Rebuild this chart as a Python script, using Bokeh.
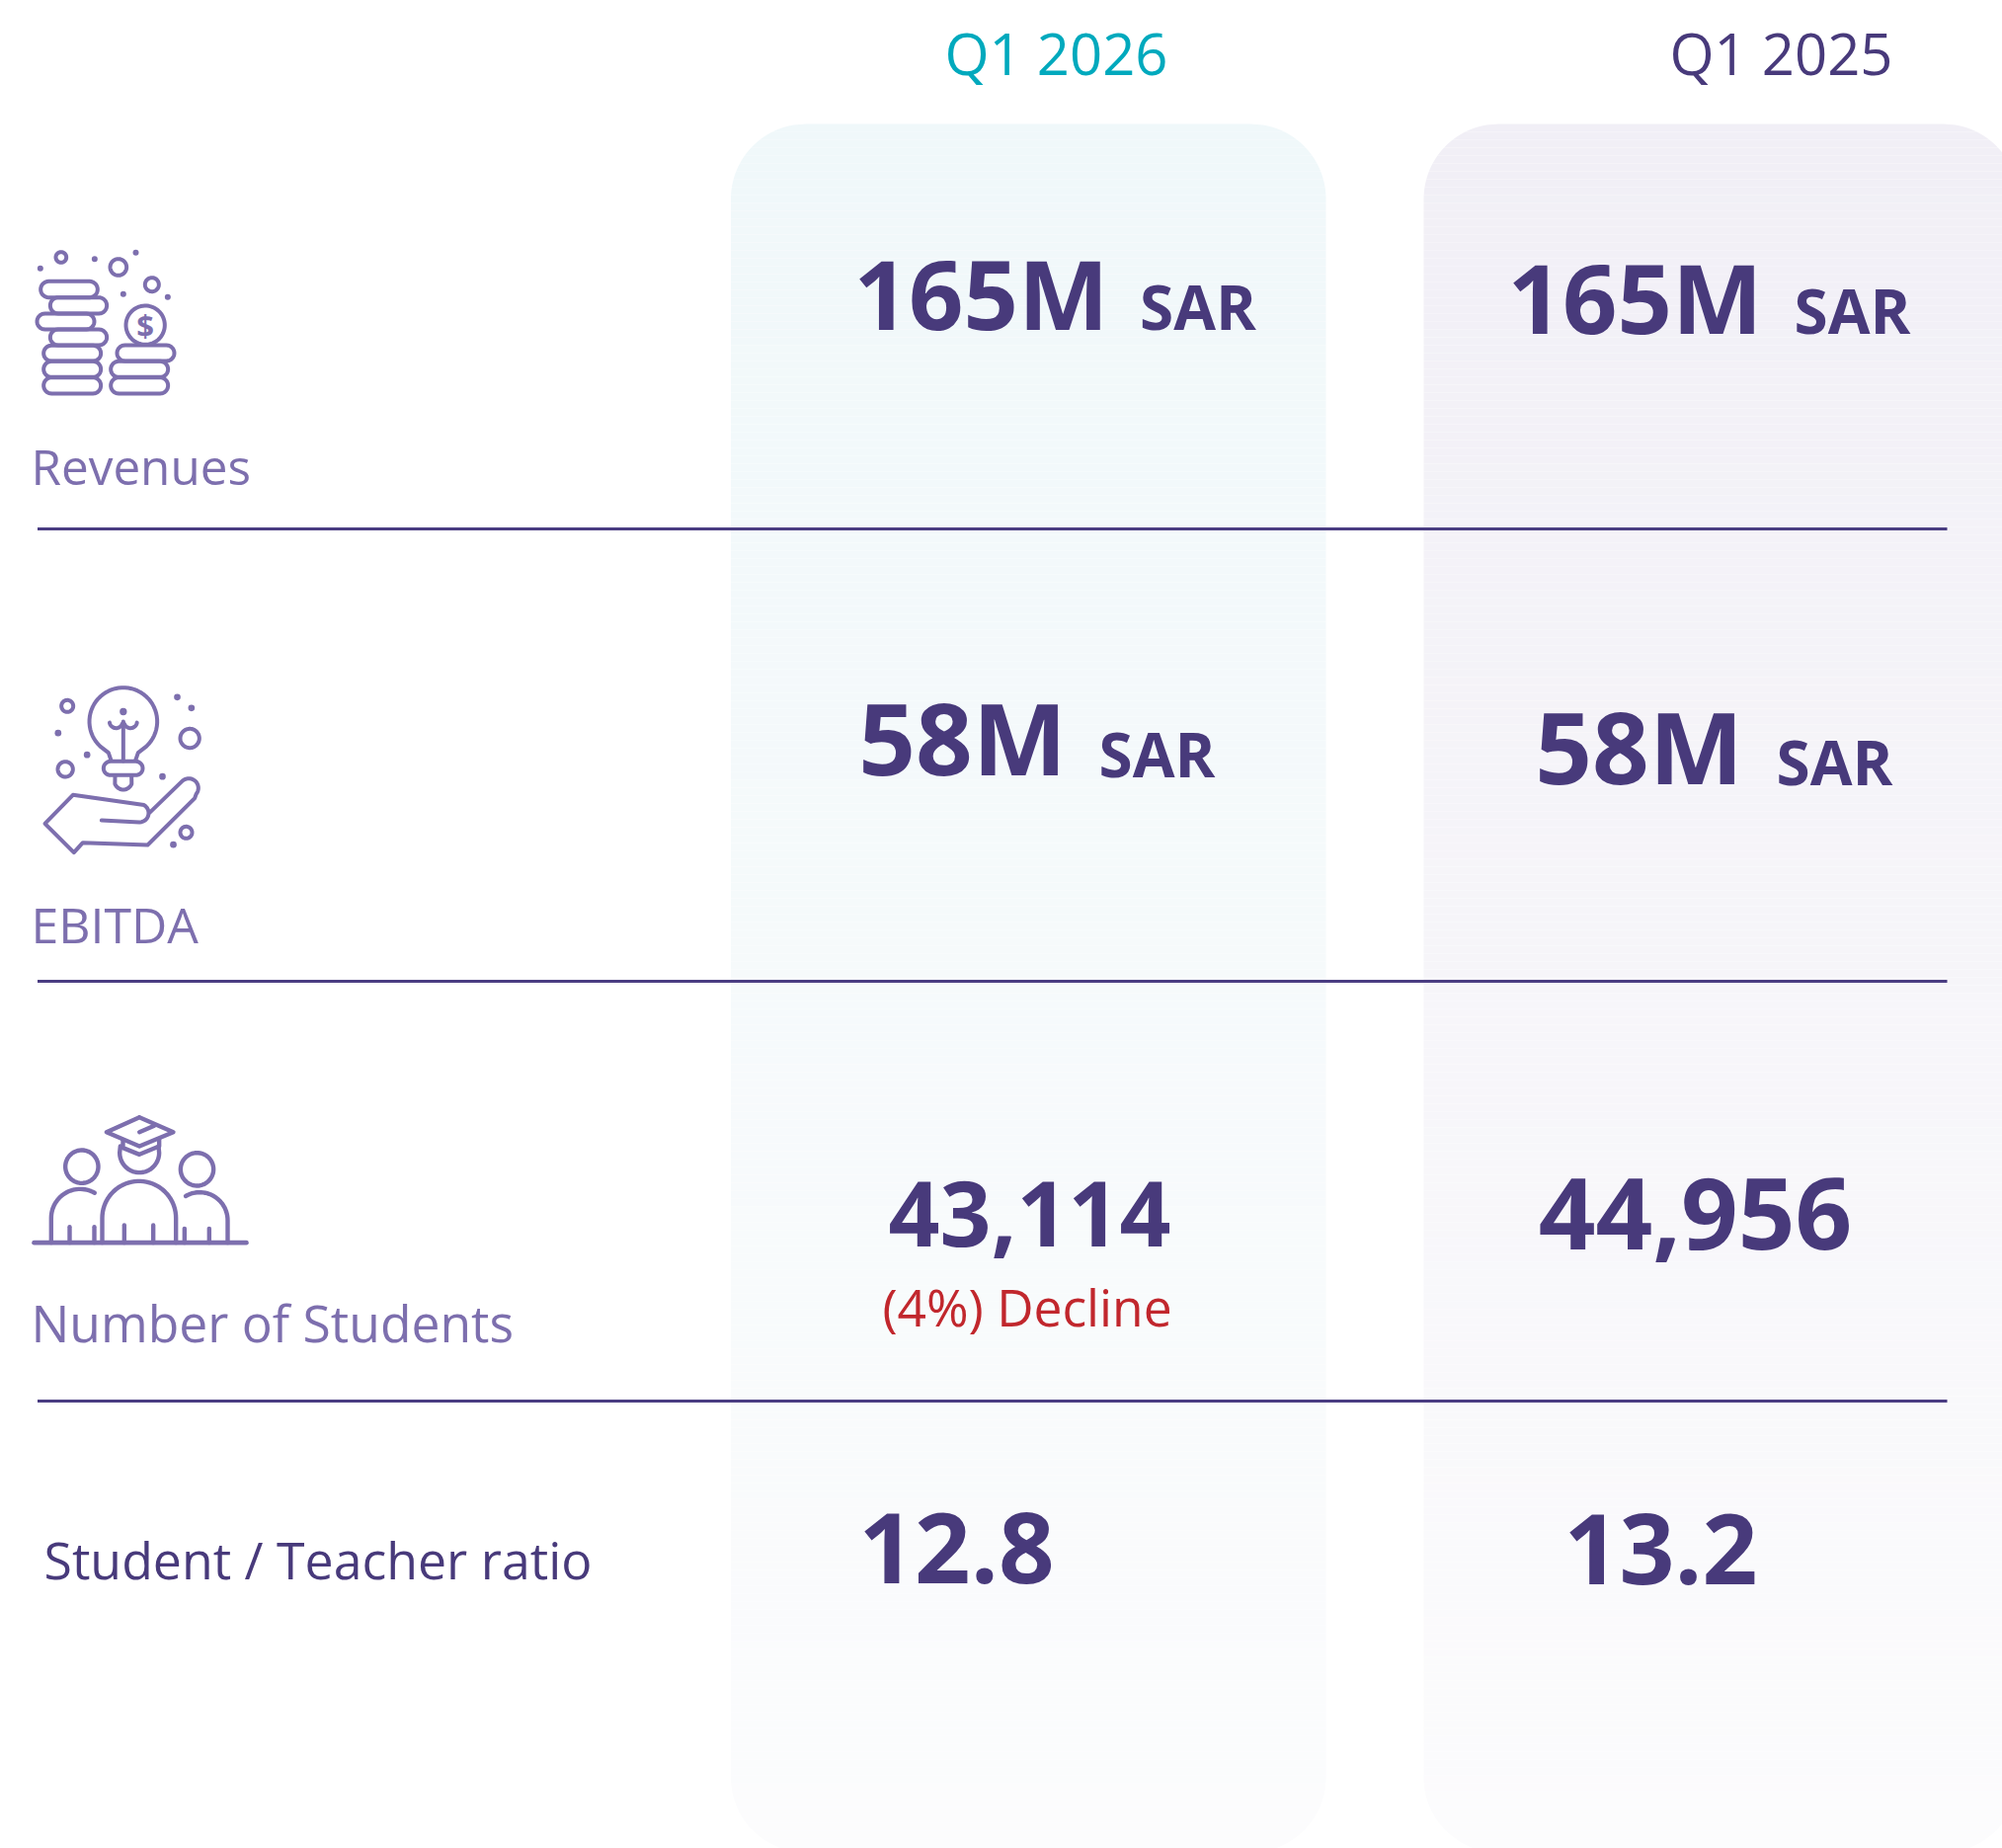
import numpy as np
from bokeh.plotting import figure
from bokeh.models import Range1d
from bokeh.core.properties import value
from bokeh.embed import file_html
from bokeh.resources import INLINE

# ---- data ----
periods = ["Q1 2026", "Q1 2025"]
metrics = ["Revenues", "EBITDA", "Number of Students", "Student / Teacher ratio"]
values_2026 = ["165M", "58M", "43,114", "12.8"]
values_2025 = ["165M", "58M", "44,956", "13.2"]
unit_rows = ["SAR", "SAR"]
note_2026 = "(4%) Decline"

# ---- style ----
FONT = "Open Sans"
DARK = "#483a7b"
RULE = "#4a3d82"
ICON = "#7d6fae"
TEAL = "#00a9bd"
RED = "#c1272d"

p = figure(width=2027, height=1871, output_backend="svg", toolbar_location=None,
           x_range=Range1d(0, 2027), y_range=Range1d(1871, 0),
           x_axis_location=None, y_axis_location=None,
           min_border=0, outline_line_color=None, background_fill_color="white",
           border_fill_color="white")
p.grid.visible = False


# ---- panels with stepped vertical gradient ----
def panel(x0, x1, y0, y1, r, top, bottom, step=8):
    def inset(y):
        d = y0 + r - y
        if d > 0:
            return r - np.sqrt(max(r * r - d * d, 0))
        d = y - (y1 - r)
        if d > 0:
            return r - np.sqrt(max(r * r - d * d, 0))
        return 0.0
    xs, ys, cols = [], [], []
    top, bottom = np.array(top, float), np.array(bottom, float)
    for a in range(y0, y1, step):
        b = min(a + step, y1)
        rows = np.arange(a, b + 1)
        left = [x0 + inset(y) for y in rows]
        right = [x1 - inset(y) for y in rows]
        xs.append(left + right[::-1])
        ys.append(list(rows) + list(rows[::-1]))
        t = (a - y0) / (y1 - y0)
        c = np.round(top + (bottom - top) * t).astype(int)
        cols.append("#%02x%02x%02x" % tuple(c))
    p.patches(xs, ys, fill_color=cols, line_color=None)


panel(739.5, 1342, 125, 1875, 76, (240, 248, 250), (252, 252, 253))
panel(1441, 2043, 125, 1875, 76, (241, 239, 246), (252, 252, 253))

# ---- separators ----
for y in (535, 993, 1418):
    p.segment(37.5, y, 1971, y, line_color=RULE, line_width=3)


# ---- icon helpers ----
def stroke(pts, ox, oy, w=4.0):
    pts = np.array(pts, float)
    p.line(ox + pts[:, 0] / 3, oy + pts[:, 1] / 3, line_color=ICON, line_width=w,
           line_cap="round", line_join="round")


def arc(cx, cy, r, a0, a1, n=40, ry=None):
    t = np.radians(np.linspace(a0, a1, n))
    return np.c_[cx + r * np.cos(t), cy + (ry or r) * np.sin(t)]


def ring(cx, cy, r, ox, oy, w=4.0):
    stroke(arc(cx, cy, r, 0, 360, 60), ox, oy, w)


def dot(cx, cy, r, ox, oy):
    p.circle(ox + cx / 3, oy + cy / 3, radius=r / 3, fill_color=ICON, line_color=None)


def stadium(x0, x1, y0, y1, ox, oy):
    r = (y1 - y0) / 2
    stroke(np.r_[arc(x1 - r, y0 + r, r, -90, 90, 16), arc(x0 + r, y0 + r, r, 90, 270, 16),
                 [[x1 - r, y0]]], ox, oy)


# coins icon
ox, oy = 0, 230
for b in [(122, 295, 163, 212), (151, 323, 212, 261), (111, 285, 261, 309), (151, 323, 309, 357),
          (131, 305, 358, 405), (131, 305, 406, 454), (131, 305, 455, 504),
          (354, 528, 357, 405), (335, 509, 406, 454), (335, 509, 455, 504)]:
    stadium(*b, ox, oy)
ring(440, 296, 59, ox, oy)
for c in [(184, 90, 16), (358, 120, 25), (460, 173, 21)]:
    ring(*c, ox, oy)
for c in [(121, 124), (286, 95), (411, 76), (373, 202), (508, 211)]:
    dot(*c, 9, ox, oy)
p.text([ox + 440 / 3], [oy + 296 / 3], text=["$"], text_font=value(FONT), text_font_style="bold",
       text_font_size="31px", text_color=ICON, text_align="center", text_baseline="middle")

# bulb-in-hand icon
ox, oy = 20, 680
stroke(np.r_[[[276, 268]], [[268, 245]], arc(313, 150, 103, 133, 407, 50), [[358, 245]], [[350, 268]]], ox, oy)
stadium(253, 372, 271, 313, ox, oy)
stroke(np.r_[[[288, 315]], arc(313, 330, 27, 160, 20, 16), [[338, 315]]], ox, oy)
stroke([(313, 150), (313, 270)], ox, oy)
stroke(arc(291, 150, 20, 170, 20, 12), ox, oy)
stroke(arc(335, 150, 20, 160, 10, 12), ox, oy)
dot(313, 120, 11, ox, oy)
for c in [(143, 103, 18), (515, 201, 29), (137, 295, 23), (504, 487, 18)]:
    ring(*c, ox, oy)
for c in [(477, 76), (520, 109), (115, 185), (203, 251), (432, 317), (465, 524)]:
    dot(*c, 10, ox, oy)
stroke(np.r_[[[247, 450]], [[362, 456]], arc(362, 428, 28, 90, -60, 12), [[160, 373]], [[75, 460]], [[163, 548]],
             [[190, 518]], [[387, 525]], [[530, 383]], arc(512, 352, 29, 40, -130, 16), [[392, 428]]], ox, oy)

# students icon
ox, oy = 19, 1110
stroke([(45, 443), (690, 443)], ox, oy, 4.6)
ring(190, 212, 50, ox, oy, 4.4)
ring(540, 220, 50, ox, oy, 4.4)
stroke(np.r_[[[307, 150]], arc(365, 170, 60, 180, 0, 24), [[423, 150]]], ox, oy, 4.4)
stroke([(365, 62), (468, 107), (365, 150), (265, 107), (365, 62)], ox, oy, 4.4)
stroke([(315, 132), (315, 155), (365, 175), (425, 150), (425, 128)], ox, oy, 4.4)
stroke([(365, 107), (410, 88)], ox, oy, 4.4)
stroke(np.r_[[[252, 443]], arc(364, 368, 112, 180, 360, 40), [[476, 443]]], ox, oy, 4.4)
stroke(np.r_[[[97, 443]], arc(185, 368, 88, 180, 300, 30)], ox, oy, 4.4)
stroke(np.r_[[[633, 443]], arc(548, 375, 85, 0, -120, 30)], ox, oy, 4.4)
for x, y in [(153, 395), (228, 395), (319, 390), (407, 390), (502, 400), (577, 400)]:
    stroke([(x, y), (x, 443)], ox, oy, 4.4)


# ---- text ----
BASE_FIX = 0.45  # the page sets alphabetic text this far (in ems) under its anchor


def label(x, y, txt, size, color, style="normal", align="center"):
    p.text([x], [y - BASE_FIX * size], text=[txt], text_font=value(FONT), text_font_style=style,
           text_font_size=f"{size}px", text_color=color, text_align=align,
           text_baseline="alphabetic")


label(1069, 79, periods[0], 58, TEAL)
label(1803, 79, periods[1], 58, DARK)

metric_pos = [(31, 493, ICON, 49.4), (31, 958, ICON, 50), (31, 1362, ICON, 51.6), (44, 1602, DARK, 51.8)]
for m, (x, y, c, s) in zip(metrics, metric_pos):
    label(x, y, m, s, c, align="left")

big_2026 = [(993, 339, 97), (974, 791, 101), (1042, 1269, 91), (968, 1612, 99)]
big_2025 = [(1655, 343, 97), (1659, 800, 101), (1716, 1274, 101), (1681, 1612, 98)]
for v, (x, y, s) in zip(values_2026, big_2026):
    label(x, y, v, s, DARK, "bold")
for v, (x, y, s) in zip(values_2025, big_2025):
    label(x, y, v, s, DARK, "bold")

units_2026 = [(1212.5, 337), (1171, 790)]
units_2025 = [(1875, 341), (1857, 798)]
for u, (x, y) in zip(unit_rows, units_2026):
    label(x, y, u, 62, DARK, "bold")
for u, (x, y) in zip(unit_rows, units_2025):
    label(x, y, u, 62, DARK, "bold")

label(1039.5, 1346, note_2026, 51.5, RED)

open("out.html", "w").write(file_html(p, INLINE))
